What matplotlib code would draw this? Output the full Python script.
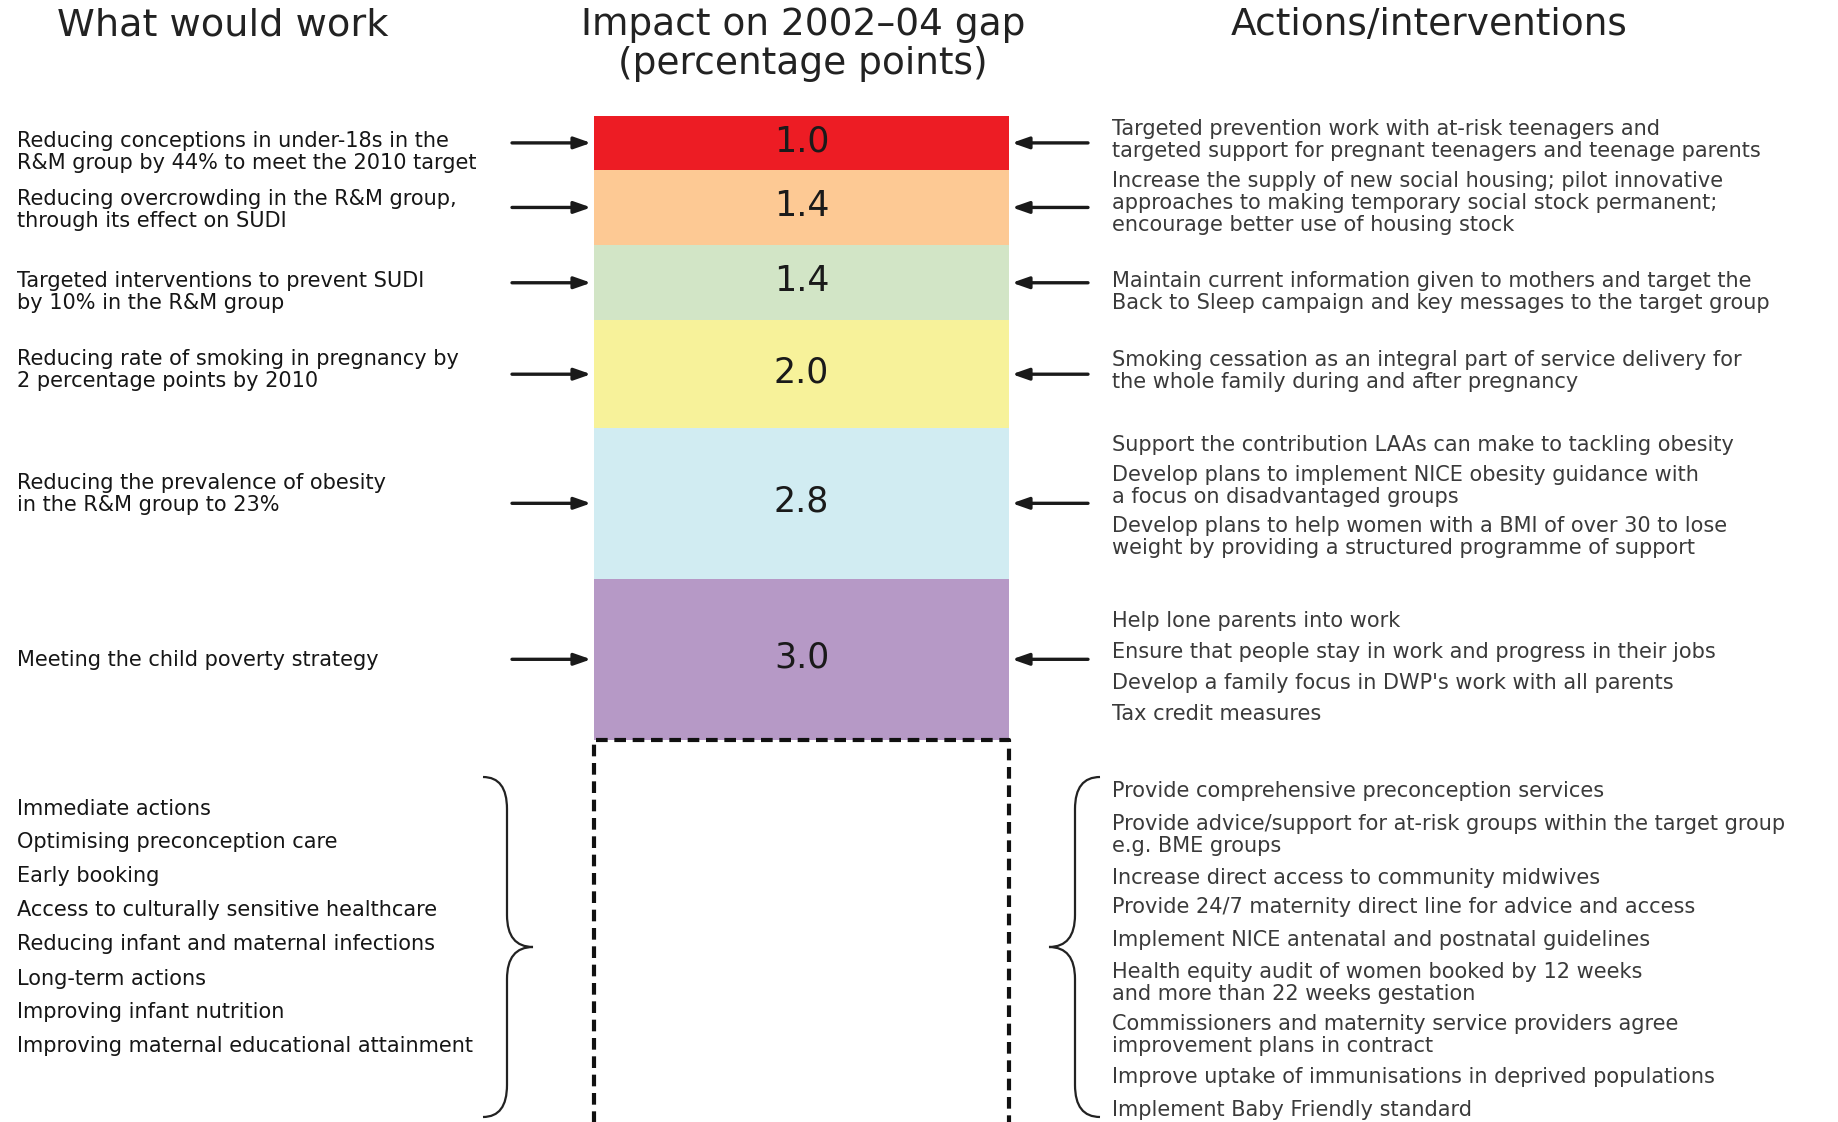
import numpy as np
import matplotlib
matplotlib.use('Agg')
import matplotlib.pyplot as plt
from matplotlib.path import Path
from matplotlib.patches import PathPatch

# impact of each measure on the 2002-04 gap (percentage points), top to bottom
values = [1.0, 1.4, 1.4, 2.0, 2.8, 3.0]
value_labels = ['1.0', '1.4', '1.4', '2.0', '2.8', '3.0']
colors = ['#ED1C24', '#FDC994', '#D2E5C6', '#F7F29A', '#D1ECF2', '#B699C6']

what_would_work = [
    'Reducing conceptions in under-18s in the\nR&M group by 44% to meet the 2010 target',
    'Reducing overcrowding in the R&M group,\nthrough its effect on SUDI',
    'Targeted interventions to prevent SUDI\nby 10% in the R&M group',
    'Reducing rate of smoking in pregnancy by\n2 percentage points by 2010',
    'Reducing the prevalence of obesity\nin the R&M group to 23%',
    'Meeting the child poverty strategy',
]

actions = [
    ['Targeted prevention work with at-risk teenagers and\ntargeted support for pregnant teenagers and teenage parents'],
    ['Increase the supply of new social housing; pilot innovative\napproaches to making temporary social stock permanent;\nencourage better use of housing stock'],
    ['Maintain current information given to mothers and target the\nBack to Sleep campaign and key messages to the target group'],
    ['Smoking cessation as an integral part of service delivery for\nthe whole family during and after pregnancy'],
    ['Support the contribution LAAs can make to tackling obesity',
     'Develop plans to implement NICE obesity guidance with\na focus on disadvantaged groups',
     'Develop plans to help women with a BMI of over 30 to lose\nweight by providing a structured programme of support'],
    ['Help lone parents into work',
     'Ensure that people stay in work and progress in their jobs',
     "Develop a family focus in DWP's work with all parents",
     'Tax credit measures'],
]

other_work = [
    'Immediate actions',
    'Optimising preconception care',
    'Early booking',
    'Access to culturally sensitive healthcare',
    'Reducing infant and maternal infections',
    'Long-term actions',
    'Improving infant nutrition',
    'Improving maternal educational attainment',
]

other_actions = [
    'Provide comprehensive preconception services',
    'Provide advice/support for at-risk groups within the target group\ne.g. BME groups',
    'Increase direct access to community midwives',
    'Provide 24/7 maternity direct line for advice and access',
    'Implement NICE antenatal and postnatal guidelines',
    'Health equity audit of women booked by 12 weeks\nand more than 22 weeks gestation',
    'Commissioners and maternity service providers agree\nimprovement plans in contract',
    'Improve uptake of immunisations in deprived populations',
    'Implement Baby Friendly standard',
]

# layout (figure pixels)
W, H = 1838, 1122
bar_left, bar_right = 594, 1009
bar_top_px, bar_bot_px = 116, 740
line_pitch = 22
left_y = [141, 199, 281, 359, 483, 660]
right_y = [[129], [181], [281], [360], [445, 475, 526], [621, 652, 683, 714]]
other_work_y = [809, 842, 876, 910, 944, 979, 1012, 1046]
other_actions_y = [791, 824, 878, 907, 940, 972, 1024, 1077, 1110]
left_x, right_x = 17, 1112
fs = 15
left_col = '#161616'
right_col = '#3a3a3a'

fig = plt.figure(figsize=(W / 100, H / 100), dpi=100)

# text / decoration layer in pixel coordinates
lay = fig.add_axes([0, 0, 1, 1])
lay.set_xlim(0, W)
lay.set_ylim(H, 0)
lay.axis('off')

# bar layer: y in percentage points, growing downwards
total = sum(values)
ppu = (bar_bot_px - bar_top_px) / total
ax = fig.add_axes([0, 0, 1, 1])
ax.set_xlim(0, W)
ax.set_ylim((H - bar_top_px) / ppu, -bar_top_px / ppu)
ax.axis('off')
ax.patch.set_alpha(0)

bottoms = np.concatenate([[0], np.cumsum(values)[:-1]])
ax.bar((bar_left + bar_right) / 2, values, width=bar_right - bar_left,
       bottom=bottoms, color=colors, align='center')

for b, v, lab in zip(bottoms, values, value_labels):
    c = b + v / 2
    ax.text((bar_left + bar_right) / 2, c - 0.03, lab, ha='center', va='center',
            fontsize=25, color='#1a1a1a')
    ax.annotate('', xy=(bar_left - 3, c), xytext=(512, c),
                arrowprops=dict(arrowstyle='-|>,head_length=1.0,head_width=0.35',
                                lw=2.4, color='#1a1a1a', shrinkA=0, shrinkB=0))
    ax.annotate('', xy=(bar_right + 3, c), xytext=(1088, c),
                arrowprops=dict(arrowstyle='-|>,head_length=1.0,head_width=0.35',
                                lw=2.4, color='#1a1a1a', shrinkA=0, shrinkB=0))

# dashed open box below the bar
ax.plot([bar_left, bar_left, bar_right, bar_right],
        [ax.get_ylim()[0] + 1, total, total, ax.get_ylim()[0] + 1],
        color='#111111', lw=3, ls=(0, (2.8, 1.6)), solid_capstyle='butt')

# headers
hfs = 27.5
lay.text(223, 25, 'What would work', ha='center', va='center', fontsize=hfs, color='#222222')
lay.text(803, 25, 'Impact on 2002\u201304 gap', ha='center', va='center', fontsize=27, color='#222222')
lay.text(803, 64, '(percentage points)', ha='center', va='center', fontsize=27, color='#222222')
lay.text(1429, 25, 'Actions/interventions', ha='center', va='center', fontsize=27, color='#222222')


def put_lines(x, y0, txt, color):
    for i, line in enumerate(txt.split('\n')):
        lay.text(x, y0 + i * line_pitch, line, ha='left', va='center',
                 fontsize=fs, color=color)


for txt, y in zip(what_would_work, left_y):
    put_lines(left_x, y, txt, left_col)

for items, ys in zip(actions, right_y):
    for txt, y in zip(items, ys):
        put_lines(right_x, y, txt, right_col)

for txt, y in zip(other_work, other_work_y):
    put_lines(left_x, y, txt, left_col)

for txt, y in zip(other_actions, other_actions_y):
    put_lines(right_x, y, txt, right_col)


def brace(x_base, x_mid, x_tip, y_top, y_bot, r=32):
    ym = (y_top + y_bot) / 2
    verts = [(x_base, y_top),
             (x_mid, y_top), (x_mid, y_top + r),
             (x_mid, ym - r),
             (x_mid, ym), (x_tip, ym),
             (x_mid, ym), (x_mid, ym + r),
             (x_mid, y_bot - r),
             (x_mid, y_bot), (x_base, y_bot)]
    codes = [Path.MOVETO,
             Path.CURVE3, Path.CURVE3,
             Path.LINETO,
             Path.CURVE3, Path.CURVE3,
             Path.CURVE3, Path.CURVE3,
             Path.LINETO,
             Path.CURVE3, Path.CURVE3]
    lay.add_patch(PathPatch(Path(verts, codes), fill=False, lw=1.6, color='#222222'))


brace(483, 507, 533, 777, 1117)
brace(1100, 1075, 1049, 777, 1117)

fig.savefig('out.png', dpi=100)
